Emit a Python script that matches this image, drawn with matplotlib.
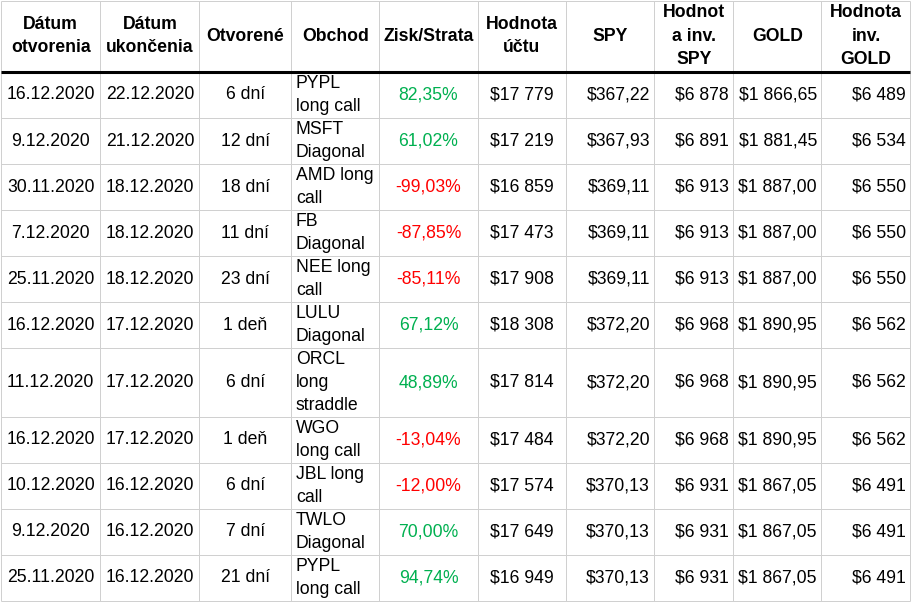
import matplotlib
matplotlib.use("Agg")
import matplotlib.pyplot as plt

# ---------------- data ----------------
headers = ["Dátum\notvorenia", "Dátum\nukončenia", "Otvorené", "Obchod", "Zisk/Strata",
           "Hodnota\núčtu", "SPY", "Hodnot\na inv.\nSPY", "GOLD", "Hodnota\ninv.\nGOLD"]
open_dates = ["16.12.2020", "9.12.2020", "30.11.2020", "7.12.2020", "25.11.2020", "16.12.2020",
              "11.12.2020", "16.12.2020", "10.12.2020", "9.12.2020", "25.11.2020"]
close_dates = ["22.12.2020", "21.12.2020", "18.12.2020", "18.12.2020", "18.12.2020", "17.12.2020",
               "17.12.2020", "17.12.2020", "16.12.2020", "16.12.2020", "16.12.2020"]
durations = ["6 dní", "12 dní", "18 dní", "11 dní", "23 dní", "1 deň", "6 dní", "1 deň",
             "6 dní", "7 dní", "21 dní"]
trades = ["PYPL\nlong call", "MSFT\nDiagonal", "AMD long\ncall", "FB\nDiagonal", "NEE long\ncall",
          "LULU\nDiagonal", "ORCL\nlong\nstraddle", "WGO\nlong call", "JBL long\ncall",
          "TWLO\nDiagonal", "PYPL\nlong call"]
pnl_pct = [82.35, 61.02, -99.03, -87.85, -85.11, 67.12, 48.89, -13.04, -12.00, 70.00, 94.74]
account = ["$17 779", "$17 219", "$16 859", "$17 473", "$17 908", "$18 308", "$17 814",
           "$17 484", "$17 574", "$17 649", "$16 949"]
spy = ["$367,22", "$367,93", "$369,11", "$369,11", "$369,11", "$372,20", "$372,20", "$372,20",
       "$370,13", "$370,13", "$370,13"]
spy_value = ["$6 878", "$6 891", "$6 913", "$6 913", "$6 913", "$6 968", "$6 968", "$6 968",
             "$6 931", "$6 931", "$6 931"]
gold = ["$1 866,65", "$1 881,45", "$1 887,00", "$1 887,00", "$1 887,00", "$1 890,95",
        "$1 890,95", "$1 890,95", "$1 867,05", "$1 867,05", "$1 867,05"]
gold_value = ["$6 489", "$6 534", "$6 550", "$6 550", "$6 550", "$6 562", "$6 562", "$6 562",
              "$6 491", "$6 491", "$6 491"]

pnl_text = [f"{v:.2f}".replace(".", ",") + "%" for v in pnl_pct]
pnl_colors = ["#00b050" if v >= 0 else "#ff0000" for v in pnl_pct]

columns = [open_dates, close_dates, durations, trades, pnl_text, account, spy,
           spy_value, gold, gold_value]

# ---------------- layout ----------------
W, H = 912, 605
col_edges = [1, 100.5, 199.5, 291.5, 379, 478, 566, 654.5, 733, 821.5, 910.5]
row_edges = [1, 71.5, 118, 164, 210, 256, 302, 348, 417, 463, 509, 555, 601]
aligns = ["center", "center", "center", "left", "center", "center", "right", "right",
          "right", "right"]
pad = 4.5
FS = 12.7
LS = 1.5
grid_color = "#d0d0d0"

fig = plt.figure(figsize=(W / 100, H / 100), dpi=100)
ax = fig.add_axes([0, 0, 1, 1])
ax.set_xlim(0, W)
ax.set_ylim(H, 0)
ax.axis("off")
fig.patch.set_facecolor("white")

lw = 0.72
ax.vlines(col_edges, row_edges[0], row_edges[-1], color=grid_color, lw=lw)
ax.hlines([r for i, r in enumerate(row_edges) if i != 1], col_edges[0], col_edges[-1],
          color=grid_color, lw=lw)
ax.hlines(row_edges[1], col_edges[0], col_edges[-1], color="black", lw=2.2, zorder=3)

font = "Liberation Sans"


def xpos(ci, ha):
    l, r = col_edges[ci], col_edges[ci + 1]
    if ha == "left":
        return l + pad
    if ha == "right":
        return r - pad
    return (l + r) / 2


# headers
hy = (row_edges[0] + row_edges[1]) / 2
for ci, h in enumerate(headers):
    ax.text((col_edges[ci] + col_edges[ci + 1]) / 2, hy, h, ha="center", va="center",
            multialignment="center", fontsize=FS, fontweight="bold", family=font,
            linespacing=LS, color="black")

# body
for ri in range(len(open_dates)):
    cy = (row_edges[ri + 1] + row_edges[ri + 2]) / 2
    for ci, col in enumerate(columns):
        ha = aligns[ci]
        color = pnl_colors[ri] if ci == 4 else "black"
        ax.text(xpos(ci, ha), cy, col[ri], ha=ha, va="center", multialignment="left",
                fontsize=FS, family=font, linespacing=LS, color=color)

fig.savefig("out.png", dpi=100, facecolor="white")
